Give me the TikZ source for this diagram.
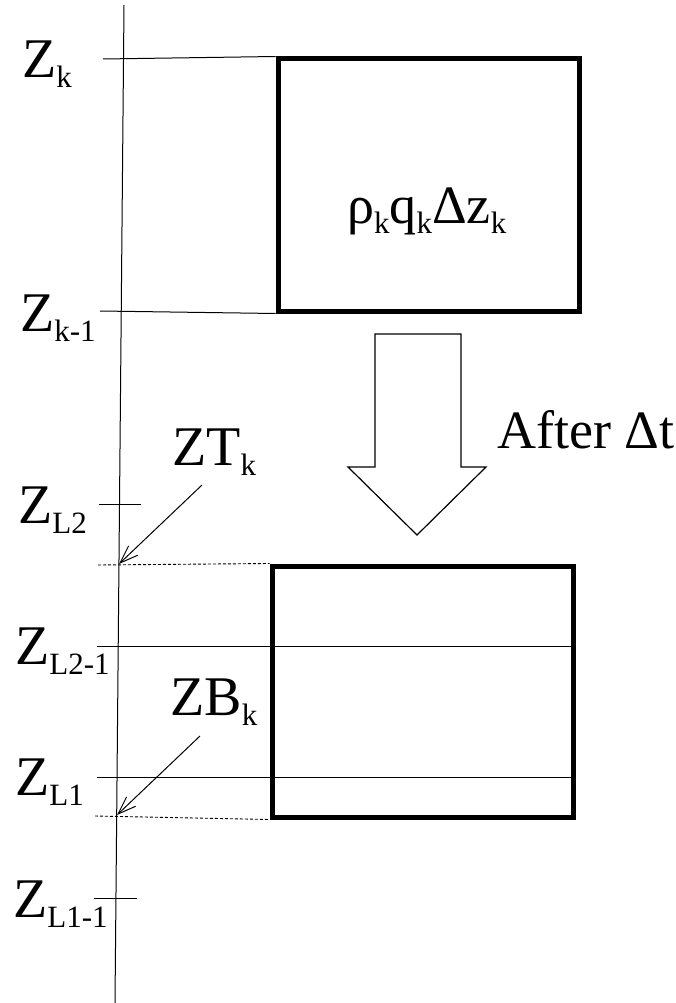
\documentclass[tikz,border=0pt]{standalone}
\usepackage{fontspec}
\setmainfont{Liberation Serif}
\usepackage{tikz}
\usetikzlibrary{positioning, arrows.meta}
\newcommand{\zsub}[1]{\raisebox{-10pt}{\fontsize{31}{33}\selectfont #1}}

\begin{document}
\begin{tikzpicture}[x=1pt, y=-1pt,
    cell/.style={draw, line width=5pt, inner sep=0pt},
    guide/.style={line width=1pt},
    dotted guide/.style={line width=0.9pt, dash pattern=on 3pt off 2pt},
    pointer/.style={line width=1pt, -{Straight Barb[length=18pt, width=13pt]}},
    lab/.style={anchor=base west, inner sep=0pt, font=\fontsize{56}{60}\selectfont}]
  \useasboundingbox (0,0) rectangle (676,1003);

  % level axis
  \coordinate (axtop) at (124,5);
  \coordinate (axbot) at (115,1003);
  \draw[guide] (axtop) -- (axbot);

  % layer before and after the time step
  \node[cell, minimum width=301pt, minimum height=252pt] (oldcell) at (428.5,185) {};
  \node[cell, minimum width=301pt, minimum height=251pt] (newcell) at (422.5,691.5) {};
  \node[anchor=base west, inner sep=0pt, font=\fontsize{54}{58}\selectfont] (mass)
    at (347,223) {ρ\zsub{k}q\zsub{k}Δz\zsub{k}};

  % level labels
  \node[lab] (zk)   at (22,78)  {Z\zsub{k}};
  \node[lab] (zkm)  at (20,331) {Z\zsub{k-1}};
  \node[lab] (zl2)  at (18,523) {Z\zsub{L2}};
  \node[lab] (zl2m) at (15,664) {Z\zsub{L2-1}};
  \node[lab] (zl1)  at (15,795) {Z\zsub{L1}};
  \node[lab] (zl1m) at (13,917) {Z\zsub{L1-1}};
  \node[lab] (ztk)  at (172,465) {ZT\zsub{k}};
  \node[lab] (zbk)  at (170,715) {ZB\zsub{k}};
  \node[lab, font=\fontsize{54}{58}\selectfont] (after) at (497,448) {After Δt};

  % level lines
  \draw[guide] (103,59) -- (oldcell.north west);
  \draw[guide] (100,311) -- (oldcell.south west);
  \draw[guide] (99,504) -- (141,504);
  \draw[guide] (97,646) coordinate (l2m) -- (l2m -| newcell.east);
  \draw[guide] (97,777) coordinate (l1) -- (l1 -| newcell.east);
  \draw[guide] (94,898) -- (137,898);
  \draw[dotted guide] (98,565) -- (newcell.north west);
  \draw[dotted guide] (95,816) -- (newcell.south west);

  % top and bottom of the moved layer
  \coordinate (zttail) at (202,485);
  \coordinate (zthead) at (119,564);
  \coordinate (zbtail) at (200,736);
  \coordinate (zbhead) at (117,815);
  \draw[pointer] (zttail) -- (zthead);
  \draw[pointer] (zbtail) -- (zbhead);

  % hollow arrow
  \draw[line width=1.2pt, line join=miter]
    (375,334) -- (461,334) -- (461,467) -- (486,467) -- (417,535)
    -- (348,467) -- (375,467) -- cycle;
\end{tikzpicture}
\end{document}
